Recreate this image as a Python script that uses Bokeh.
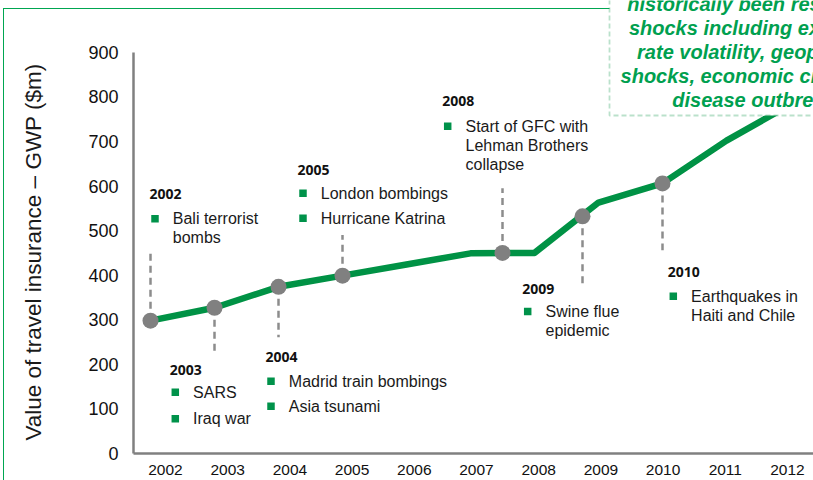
import math
from bokeh.plotting import figure
from bokeh.models import Range1d, LinearAxis, FixedTicker, Label, BoxAnnotation
from bokeh.core.properties import value
from bokeh.embed import file_html
from bokeh.resources import INLINE

# ---------------- data ----------------
line_years = [2002, 2003, 2004, 2005, 2006, 2007, 2008, 2009, 2010, 2011, 2012]
line_values = [298, 327, 374, 399, 424, 449, 450, 563, 606, 702, 783]

event_years = [2002, 2003, 2004, 2005, 2007.5, 2008.75, 2010]
event_values = [298, 327, 374, 399, 450, 532, 606]
stem_ends = [450, 223, 261, 490, 595, 378, 456]
event_titles = ["2002", "2003", "2004", "2005", "2008", "2009", "2010"]
event_items = [
    [["Bali terrorist", "bombs"]],
    [["SARS"], ["Iraq war"]],
    [["Madrid train bombings"], ["Asia tsunami"]],
    [["London bombings"], ["Hurricane Katrina"]],
    [["Start of GFC with", "Lehman Brothers", "collapse"]],
    [["Swine flue", "epidemic"]],
    [["Earthquakes in", "Haiti and Chile"]],
]

y_ticks = [0, 100, 200, 300, 400, 500, 600, 700, 800, 900]
x_tick_labels = ["2002", "2003", "2004", "2005", "2006", "2007", "2008",
                 "2009", "2010", "2011", "2012"]
y_axis_title = "Value of travel insurance \u2013 GWP ($m)"
callout_lines = ["historically been resilient to", "shocks including exchange",
                 "rate volatility, geopolitical", "shocks, economic crises and",
                 "disease outbreaks"]

# ---------------- layout ----------------
W, H = 813, 480
BL, BB = 133, 27
PX0 = BL                     # page x of frame left
PY0 = H - BB                 # page y of frame bottom
PPY = 0.44575                # px per unit (y)
PPX = 64.0                   # px per year (data)


def X(px):
    return 2002 + (px - 150) / PPX


def Y(py):
    return (PY0 - py) / PPY


p = figure(width=W, height=H, output_backend="svg", toolbar_location=None,
           x_range=Range1d(X(PX0), X(W)), y_range=Range1d(0, Y(0)),
           x_axis_location=None, min_border_left=BL, min_border_right=0,
           min_border_top=0, min_border_bottom=BB)
p.outline_line_color = None
p.grid.visible = False
p.background_fill_alpha = 0
p.border_fill_alpha = 0
BORDER = "#00a651"
p.styles = {
    "background": (f"linear-gradient({BORDER}, {BORDER}) 3px 8px / 100% 1px no-repeat, "
                   f"linear-gradient({BORDER}, {BORDER}) 3px 8px / 1px 100% no-repeat, white"),
}

# y axis
ya = p.yaxis[0]
ya.ticker = FixedTicker(ticks=y_ticks)
ya.bounds = (0, 900)
ya.axis_line_color = "#808080"
ya.axis_line_width = 2.5
ya.major_tick_line_color = None
ya.minor_tick_line_color = None
ya.major_tick_out = 0
ya.major_tick_in = 0
ya.major_label_standoff = 15
ya.major_label_text_font = "Liberation Sans"
ya.major_label_text_font_size = "18px"
ya.major_label_text_color = "#111111"
# the title is centred on the 0-900 extent: pad its upper end with no-break spaces
ya.axis_label = y_axis_title + "\u00a0" * 8
ya.axis_label_standoff = 39
ya.axis_label_text_font = "Liberation Sans"
ya.axis_label_text_font_size = "22.5px"
ya.axis_label_text_font_style = "normal"
ya.axis_label_text_color = "#1a1a1a"

# x axis (labels sit on their own slightly different spacing)
LPX = 62.2
p.extra_x_ranges = {"labels": Range1d(2002 + (PX0 - 165) / LPX, 2002 + (W - 165) / LPX)}
xa = LinearAxis(x_range_name="labels",
                ticker=FixedTicker(ticks=[int(t) for t in x_tick_labels]),
                major_label_overrides={int(t): t for t in x_tick_labels})
xa.axis_line_color = "#808080"
xa.axis_line_width = 2.5
xa.major_tick_line_color = None
xa.minor_tick_line_color = None
xa.major_tick_out = 0
xa.major_tick_in = 0
xa.major_label_standoff = 11
xa.major_label_text_font = "Liberation Sans"
xa.major_label_text_font_size = "15.5px"
xa.major_label_text_color = "#111111"
p.add_layout(xa, "below")

# data marks
GREEN = "#009245"
p.line(line_years, line_values, line_color=GREEN, line_width=6.5, line_join="round")
p.segment(x0=event_years, y0=event_values, x1=event_years, y1=stem_ends,
          line_color="#8c8c8c", line_width=2.5, line_dash="7 5")
p.scatter(event_years, event_values, size=16, fill_color="#808080", line_color=None)

# event annotations (page-pixel layout)
block_layout = [
    (149, 193.3, [218.3]),
    (169.3, 369.0, [391.7, 418.3]),
    (265.0, 356.7, [380.7, 405.7]),
    (297.0, 169.0, [192.7, 217.7]),
    (441.7, 100.7, [125.7]),
    (521.7, 288.3, [311.0]),
    (667.3, 271.0, [295.7]),
]
hx, hy, ht = [], [], []
bx, by = [], []
tx, ty, tt = [], [], []
for title, items, (x0, y0, iys) in zip(event_titles, event_items, block_layout):
    hx.append(X(x0)); hy.append(Y(y0)); ht.append(title)
    for item, iy in zip(items, iys):
        bx.append(X(x0 + 5.5)); by.append(Y(iy))
        for k, line in enumerate(item):
            tx.append(X(x0 + 23.3)); ty.append(Y(iy + 19 * k)); tt.append(line)

p.scatter(bx, by, marker="square", size=7.5, fill_color="#00924a", line_color=None)
p.text(x=hx, y=hy, text=ht, text_font=value("Open Sans"), text_font_style="bold",
       text_font_size="14px", text_baseline="middle", text_align="left",
       text_color="#111111")
p.text(x=tx, y=ty, text=tt, text_font=value("Liberation Sans"),
       text_font_size="16px", text_baseline="middle", text_align="left",
       text_color="#1a1a1a")

# callout box (top right)
p.add_layout(BoxAnnotation(left=X(609), right=X(960), bottom=Y(115), top=Y(-200),
                           fill_color="white", fill_alpha=1.0,
                           line_color="#1a9d52", line_width=1.8, line_dash="5 3"))
for k, line in enumerate(callout_lines):
    p.add_layout(Label(x=X(759), y=Y(3.3 + 24 * k), text=line,
                       text_align="center", text_baseline="middle",
                       text_font="Liberation Sans", text_font_style="bold italic",
                       text_font_size="20px", text_color="#00a04f"))

open("out.html", "w").write(file_html(p, INLINE))
